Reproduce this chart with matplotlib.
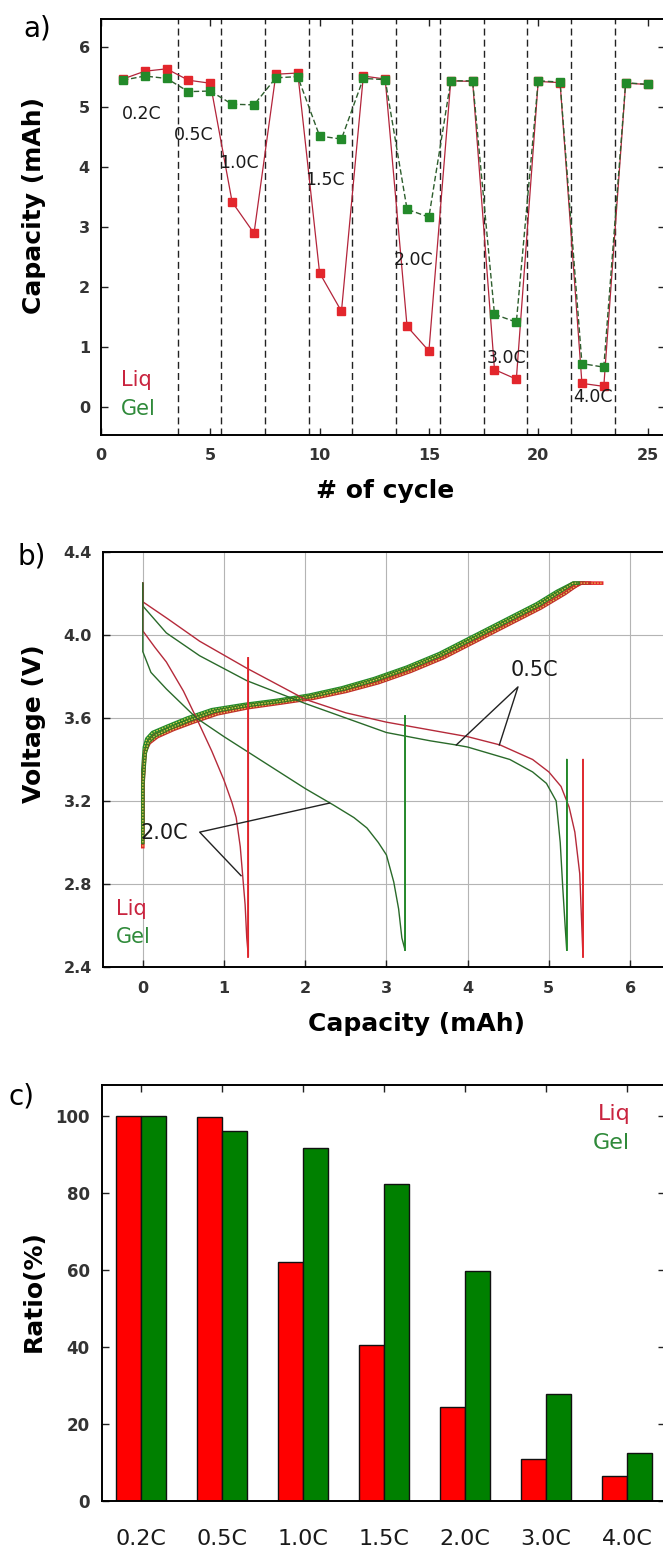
import matplotlib.pyplot as plt

W, H = 663, 1553

# ---- a) capacity vs cycle number ----
cycles = list(range(1, 26))
cap_liq = [5.47, 5.60, 5.64, 5.45, 5.40, 3.42, 2.90, 5.55, 5.57, 2.24, 1.60, 5.52, 5.47,
           1.35, 0.94, 5.44, 5.43, 0.63, 0.47, 5.43, 5.41, 0.40, 0.35, 5.40, 5.38]
cap_gel = [5.45, 5.52, 5.48, 5.26, 5.27, 5.05, 5.04, 5.49, 5.51, 4.52, 4.47, 5.48, 5.46,
           3.30, 3.17, 5.44, 5.44, 1.55, 1.42, 5.44, 5.42, 0.73, 0.67, 5.41, 5.38]
rate_breaks = [3.5, 5.5, 7.5, 9.5, 11.5, 13.5, 15.5, 17.5, 19.5, 21.5, 23.5]
rate_names = ["0.2C", "0.5C", "1.0C", "1.5C", "2.0C", "3.0C", "4.0C"]
rate_text_x = [1.88, 4.25, 6.3, 10.25, 14.3, 18.55, 22.5]
rate_text_y = [4.89, 4.54, 4.07, 3.78, 2.45, 0.82, 0.18]

# ---- b) voltage profiles (capacity mAh, voltage V) ----
chg_liq_a_x = [0.0, 0.0, 0.02, 0.06, 0.15, 0.35, 0.6, 0.9, 1.3, 1.7, 2.1, 2.5, 2.9, 3.3, 3.7, 4.1, 4.5, 4.9, 5.2, 5.4, 5.65]
chg_liq_a_y = [2.98, 3.25, 3.42, 3.49, 3.52, 3.55, 3.59, 3.63, 3.655, 3.675, 3.70, 3.735, 3.78, 3.835, 3.90, 3.98, 4.06, 4.14, 4.21, 4.25, 4.25]
chg_liq_b_x = [0.0, 0.0, 0.03, 0.08, 0.18, 0.38, 0.62, 0.92, 1.3, 1.7, 2.1, 2.5, 2.9, 3.3, 3.7, 4.1, 4.5, 4.9, 5.2, 5.38, 5.5]
chg_liq_b_y = [3.05, 3.3, 3.44, 3.48, 3.51, 3.545, 3.58, 3.62, 3.65, 3.672, 3.695, 3.728, 3.77, 3.825, 3.89, 3.97, 4.05, 4.13, 4.2, 4.25, 4.25]
chg_gel_a_x = [0.0, 0.0, 0.02, 0.05, 0.12, 0.3, 0.55, 0.85, 1.25, 1.65, 2.05, 2.45, 2.85, 3.25, 3.65, 4.05, 4.45, 4.85, 5.1, 5.3, 5.42]
chg_gel_a_y = [3.1, 3.35, 3.46, 3.5, 3.53, 3.56, 3.6, 3.64, 3.665, 3.685, 3.71, 3.745, 3.79, 3.845, 3.91, 3.99, 4.07, 4.15, 4.21, 4.25, 4.25]
chg_gel_b_x = [0.0, 0.0, 0.03, 0.07, 0.15, 0.33, 0.58, 0.88, 1.28, 1.68, 2.08, 2.48, 2.88, 3.28, 3.68, 4.08, 4.48, 4.88, 5.12, 5.3, 5.36]
chg_gel_b_y = [3.0, 3.28, 3.43, 3.485, 3.515, 3.55, 3.59, 3.632, 3.66, 3.68, 3.705, 3.74, 3.785, 3.84, 3.905, 3.985, 4.065, 4.145, 4.205, 4.25, 4.25]

dis_liq_05_x = [0.0, 0.0, 0.3, 0.7, 1.28, 2.0, 2.5, 3.0, 3.5, 4.0, 4.4, 4.8, 5.0, 5.15, 5.25, 5.32, 5.38, 5.40, 5.42, 5.42]
dis_liq_05_y = [4.25, 4.16, 4.08, 3.97, 3.84, 3.69, 3.625, 3.58, 3.545, 3.51, 3.47, 3.40, 3.34, 3.27, 3.17, 3.05, 2.85, 2.65, 2.45, 3.40]
dis_gel_05_x = [0.0, 0.0, 0.29, 0.7, 1.28, 2.0, 2.5, 3.0, 3.54, 3.86, 4.0, 4.52, 4.8, 4.97, 5.09, 5.14, 5.17, 5.2, 5.22, 5.22]
dis_gel_05_y = [4.25, 4.14, 4.01, 3.9, 3.78, 3.67, 3.6, 3.53, 3.49, 3.47, 3.46, 3.40, 3.34, 3.285, 3.2, 3.0, 2.79, 2.6, 2.48, 3.40]
dis_liq_20_x = [0.0, 0.0, 0.15, 0.29, 0.5, 0.66, 0.85, 1.0, 1.1, 1.15, 1.2, 1.23, 1.26, 1.28, 1.3, 1.3]
dis_liq_20_y = [4.25, 4.02, 3.94, 3.87, 3.73, 3.6, 3.44, 3.30, 3.19, 3.12, 2.98, 2.84, 2.7, 2.54, 2.45, 3.89]
dis_gel_20_x = [0.0, 0.0, 0.1, 0.29, 0.66, 1.0, 1.28, 1.6, 2.0, 2.35, 2.6, 2.76, 2.9, 3.0, 3.09, 3.15, 3.19, 3.23, 3.23]
dis_gel_20_y = [4.25, 3.92, 3.82, 3.74, 3.6, 3.51, 3.44, 3.36, 3.26, 3.18, 3.12, 3.07, 3.0, 2.94, 2.81, 2.68, 2.54, 2.48, 3.61]

# ---- c) capacity retention ratio ----
rates = ["0.2C", "0.5C", "1.0C", "1.5C", "2.0C", "3.0C", "4.0C"]
ratio_liq = [100, 99.6, 62.0, 40.6, 24.4, 10.9, 6.5]
ratio_gel = [100, 96.1, 91.7, 82.3, 59.6, 27.9, 12.5]

RED = "#e3262c"
GREEN = "#238a2a"
LIQ_TXT = "#c9243f"
GEL_TXT = "#2f8a3a"
TICK_C = "#333333"

fig = plt.figure(figsize=(W / 100, H / 100), dpi=100)


def rect(l, t, r, b):
    return [l / W, 1 - b / H, (r - l) / W, (b - t) / H]


def ftext(x, y, s, **kw):
    fig.text(x / W, 1 - y / H, s, ha="center", va="center", **kw)


def style(ax, size, padx, pady):
    for s in ax.spines.values():
        s.set_linewidth(1.4)
    ax.tick_params(direction="in", length=5, width=1, labelsize=size,
                   labelcolor=TICK_C, color="#222222")
    ax.tick_params(axis="x", pad=padx)
    ax.tick_params(axis="y", pad=pady)
    plt.setp(ax.get_xticklabels(), fontweight="bold")
    plt.setp(ax.get_yticklabels(), fontweight="bold")


# a)
ax = fig.add_axes(rect(101, 19, 665, 435))
for xb in rate_breaks:
    ax.axvline(xb, color="#222222", lw=1, ls=(0, (5, 3)))
ax.plot(cycles, cap_liq, color="#b3243a", lw=0.9, marker="s", ms=5.5,
        mfc=RED, mec=RED, zorder=3)
ax.plot(cycles, cap_gel, color="#2e5e2e", lw=1.0, ls=(0, (4, 2)), marker="s", ms=5.5,
        mfc=GREEN, mec=GREEN, zorder=4)
for name, tx, ty in zip(rate_names, rate_text_x, rate_text_y):
    ax.text(tx, ty, name, fontsize=12.5, color="#1a1a1a", ha="center", va="center", zorder=5)
ax.text(0.9, 0.45, "Liq", color=LIQ_TXT, fontsize=15, va="center")
ax.text(0.9, -0.02, "Gel", color=GEL_TXT, fontsize=15, va="center")
ax.set_xlim(0, 25.8)
ax.set_ylim(-0.46, 6.47)
ax.set_xticks([0, 5, 10, 15, 20, 25])
ax.set_yticks([0, 1, 2, 3, 4, 5, 6])
ax.tick_params(top=True, right=True)
style(ax, 11.5, 9, 8)

# b)
ax = fig.add_axes(rect(103, 552, 665, 967))
ax.grid(True, color="#b4b4b4", lw=0.8)
ax.set_axisbelow(True)
for xs, ys, c in [(chg_liq_a_x, chg_liq_a_y, RED), (chg_gel_a_x, chg_gel_a_y, GREEN),
                  (chg_liq_b_x, chg_liq_b_y, "#c0302a"), (chg_gel_b_x, chg_gel_b_y, "#3a7a20")]:
    ax.plot(xs, ys, color=c, lw=2.6, solid_joinstyle="round")
    ax.plot(xs, ys, color="#e6cf50", lw=0.9, ls=(0, (1.2, 1.2)))
for xs, ys, c in [(dis_liq_05_x, dis_liq_05_y, "#b52a3a"), (dis_gel_05_x, dis_gel_05_y, "#2a6a2a"),
                  (dis_liq_20_x, dis_liq_20_y, "#b52a3a"), (dis_gel_20_x, dis_gel_20_y, "#2a6a2a")]:
    ax.plot(xs, ys, color=c, lw=1.0)
# end-of-discharge rest lines, brighter
ax.plot(dis_liq_20_x[-2:], dis_liq_20_y[-2:], color=RED, lw=1.3)
ax.plot(dis_gel_20_x[-2:], dis_gel_20_y[-2:], color=GREEN, lw=1.3)
ax.plot(dis_liq_05_x[-2:], dis_liq_05_y[-2:], color=RED, lw=1.3)
ax.plot(dis_gel_05_x[-2:], dis_gel_05_y[-2:], color=GREEN, lw=1.3)
ax.text(0.27, 3.045, "2.0C", fontsize=15, color="#1a1a1a", ha="center", va="center")
ax.plot([2.3, 0.7, 1.21], [3.19, 3.05, 2.84], color="#222222", lw=1.0)
ax.text(4.82, 3.83, "0.5C", fontsize=15, color="#1a1a1a", ha="center", va="center")
ax.plot([3.86, 4.62, 4.39], [3.47, 3.75, 3.47], color="#222222", lw=1.0)
ax.text(-0.33, 2.68, "Liq", color=LIQ_TXT, fontsize=15, va="center")
ax.text(-0.33, 2.546, "Gel", color=GEL_TXT, fontsize=15, va="center")
ax.set_xlim(-0.49, 6.43)
ax.set_ylim(2.4, 4.4)
ax.set_xticks([0, 1, 2, 3, 4, 5, 6])
ax.set_yticks([2.4, 2.8, 3.2, 3.6, 4.0, 4.4], ["2.4", "2.8", "3.2", "3.6", "4.0", "4.4"])
style(ax, 11.5, 10, 8)

# c)
ax = fig.add_axes(rect(101.5, 1085, 665, 1501))
xs = list(range(len(rates)))
w = 0.31
ax.bar([x - w / 2 for x in xs], ratio_liq, w, color="#ff0000", edgecolor="#111111", lw=1)
ax.bar([x + w / 2 for x in xs], ratio_gel, w, color="#008000", edgecolor="#111111", lw=1)
ax.text(6.04, 100.5, "Liq", color=LIQ_TXT, fontsize=16, ha="right", va="center")
ax.text(6.04, 93.0, "Gel", color=GEL_TXT, fontsize=16, ha="right", va="center")
ax.set_xlim(-0.49, 6.47)
ax.set_ylim(0, 108)
ax.set_xticks(xs, rates)
ax.set_yticks([0, 20, 40, 60, 80, 100])
ax.tick_params(top=True, right=True)
style(ax, 12, 20, 8.5)
ax.tick_params(axis="x", bottom=False, labelsize=16, labelcolor="#1a1a1a")
plt.setp(ax.get_xticklabels(), fontweight="normal")

# panel letters and axis titles
ftext(37, 28, "a)", fontsize=20)
ftext(32, 557, "b)", fontsize=20)
ftext(22, 1097, "c)", fontsize=20)
ftext(34, 205, "Capacity (mAh)", fontsize=18, fontweight="bold", rotation=90)
ftext(34, 724, "Voltage (V)", fontsize=18, fontweight="bold", rotation=90)
ftext(34, 1291, "Ratio(%)", fontsize=18, fontweight="bold", rotation=90)
ftext(385, 491, "# of cycle", fontsize=18, fontweight="bold")
ftext(416, 1024, "Capacity (mAh)", fontsize=18, fontweight="bold")

fig.savefig("out.png", dpi=100)
